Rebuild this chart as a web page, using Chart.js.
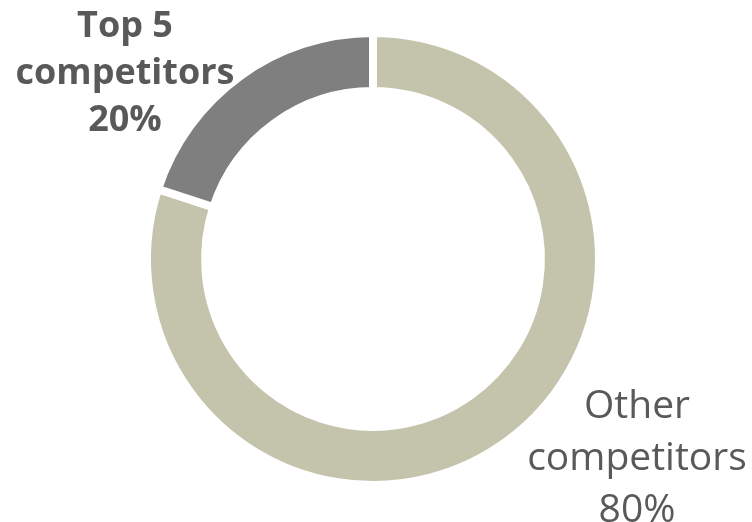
<!DOCTYPE html>
<html>
<head>
<meta charset="utf-8">
<script src="https://cdn.jsdelivr.net/npm/chart.js@4/dist/chart.umd.min.js"></script>
<style>
	html, body { margin: 0; padding: 0; background: #ffffff; }
	#wrap { width: 752px; height: 522px; position: relative; }
</style>
</head>
<body>
<div id="wrap"><canvas id="share-cvs" width="752" height="522"></canvas></div>
<script>
var categories = ["Other competitors", "Top 5 competitors"];
var shares = [80, 20];
var colours = ["#c4c3ac", "#7f7f7f"];

// where each label block sits: centre x, first baseline, line step
var labelBoxes = [
	{x: 637, y: 418, step: 52, font: "39px 'Open Sans'"},
	{x: 125, y: 37, step: 47, font: "bold 36px 'Open Sans'"}
];

function labelLines(i) {
	let name = categories[i];
	let cut = name.lastIndexOf(" ");
	return [name.slice(0, cut), name.slice(cut + 1), shares[i] + "%"];
}

var outsideLabels = {
	id: "outsideLabels",
	afterDatasetsDraw(chart) {
		let ctx = chart.ctx;
		ctx.save();
		ctx.fillStyle = "#595959";
		ctx.textAlign = "center";
		ctx.textBaseline = "alphabetic";
		for (let i in categories) {
			let box = labelBoxes[i];
			ctx.font = box.font;
			let lines = labelLines(i);
			for (let j = 0; j < lines.length; j++) {
				ctx.fillText(lines[j], box.x, box.y + j * box.step);
			}
		}
		ctx.restore();
	}
};

var config = {
	type: "doughnut",
	data: {
		labels: categories,
		datasets: [{
			data: shares,
			backgroundColor: colours,
			borderColor: "#ffffff",
			borderWidth: 8,
			hoverOffset: 0
		}]
	},
	options: {
		responsive: false,
		animation: false,
		radius: 226,
		cutout: "74.3%",
		layout: {
			padding: {left: 0, top: 0, right: 6, bottom: 4}
		},
		plugins: {
			legend: false,
			tooltip: {enabled: false}
		}
	},
	plugins: [outsideLabels]
};
var chart = new Chart("share-cvs", config);
</script>
</body>
</html>
